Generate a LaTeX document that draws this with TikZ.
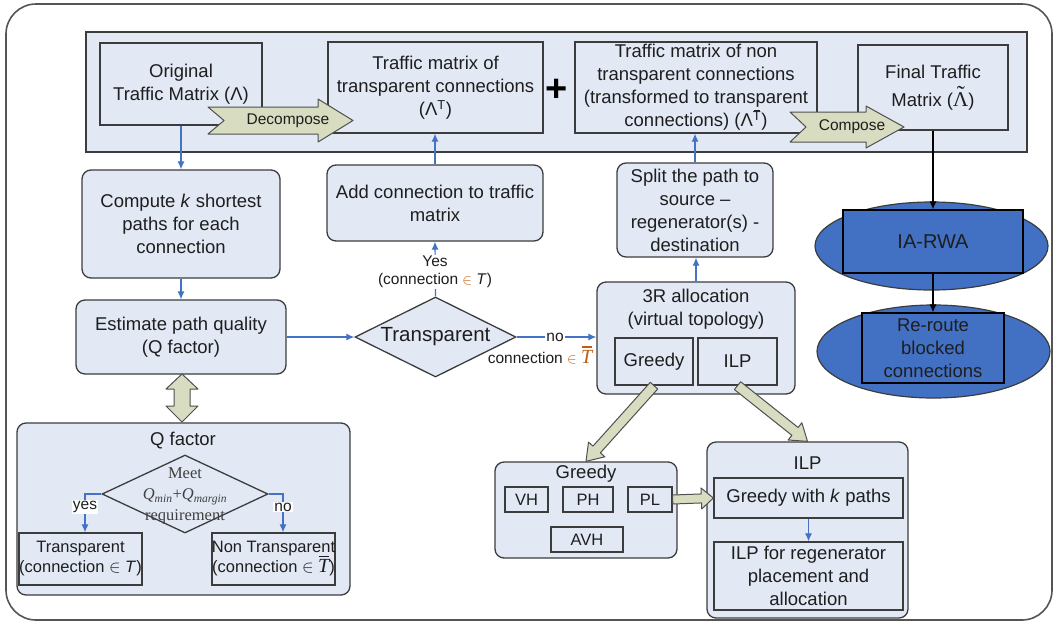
\documentclass[tikz,border=0pt]{standalone}
\usepackage[no-math]{fontspec}
\setmainfont{Liberation Sans}
\newfontfamily\seriff{Liberation Serif}
\usetikzlibrary{shapes.geometric,arrows.meta,calc}
\definecolor{boxfill}{RGB}{226,233,245}
\definecolor{bordergray}{RGB}{60,60,60}
\definecolor{framegray}{RGB}{85,85,85}
\definecolor{connblue}{RGB}{68,114,196}
\definecolor{fatfill}{RGB}{216,220,192}
\definecolor{fatborder}{RGB}{80,80,80}
\definecolor{ellblue}{RGB}{66,112,194}
\definecolor{textdark}{RGB}{30,30,30}
\definecolor{orng}{RGB}{190,95,20}
\newcommand\fs{\fontsize{18.5}{23}\selectfont}
\newcommand\ls{\fontsize{15.5}{18.5}\selectfont}
\newcommand\ms{\fontsize{16.5}{20}\selectfont}
\newcommand\tildeLam{\ooalign{{\seriff\fontsize{21}{21}\selectfont Λ}\cr\hidewidth\raisebox{0.18em}{\seriff\fontsize{24}{24}\selectfont\char"02DC}\hidewidth\cr}}
\newcommand\barT{\ooalign{T\cr\hidewidth\raisebox{0.78em}{\rule{0.5em}{0.07em}}\hidewidth\cr}}
\newcommand\fatarrow[5]{%
  \coordinate (fah) at ($(#2)!#5!(#1)$);
  \path[fat] ($(#1)!#3!90:(#2)$) -- ($(fah)!#3!90:(#2)$) -- ($(fah)!#4!90:(#2)$) -- (#2)
    -- ($(fah)!#4!-90:(#2)$) -- ($(fah)!#3!-90:(#2)$) -- ($(#1)!#3!-90:(#2)$) -- cycle;}
\begin{document}
\begin{tikzpicture}[x=1pt,y=-1pt,
  every node/.style={text=textdark},
  box/.style={draw=bordergray, fill=boxfill, line width=1.3pt, align=center, inner sep=0pt, font=\fs},
  rbox/.style={box, rounded corners=9pt},
  conn/.style={draw=connblue, line width=1.2pt, -{Latex[length=8pt,width=7pt]}},
  blk/.style={draw=black, line width=1.1pt, -{Latex[length=8pt,width=7pt]}},
  fat/.style={draw=fatborder, fill=fatfill, line width=1pt, line join=round},
  lbl/.style={fill=white, inner sep=1pt, font=\ls, align=center},
  ttl/.style={font=\fs, align=center, inner sep=0pt}]
\useasboundingbox (0,0) rectangle (1057,622);
% outer frame
\draw[framegray, line width=1.6pt, rounded corners=30pt, fill=white] (6,4) rectangle (1052,620);
% top band
\node[box, minimum width=941pt, minimum height=120pt] (band) at (556.5,92) {};
\node[box, minimum width=162pt, minimum height=82pt] (orig) at (181,84) {Original\\Traffic Matrix (Λ)};
\node[box, minimum width=215pt, minimum height=91pt] (tT) at (435.5,87.5) {Traffic matrix of\\transparent connections\\(Λ\textsuperscript{T})};
\node[font=\fontsize{38}{38}\selectfont\bfseries, inner sep=0pt, text=black] (plus) at (557,90) {+};
\node[box, minimum width=242pt, minimum height=91pt] (tN) at (696,87.5) {Traffic matrix of non\\transparent connections\\(transformed to transparent\\connections) (Λ\textsuperscript{\barT})};
\node[box, minimum width=150pt, minimum height=85pt] (fin) at (933,87.5) {Final Traffic\\[5pt]Matrix (\tildeLam)};
% left column
\node[rbox, minimum width=198pt, minimum height=108pt] (compute) at (181,224) {Compute \textit{k} shortest\\paths for each\\connection};
\node[rbox, minimum width=210pt, minimum height=74pt] (est) at (181,337) {Estimate path quality\\(Q factor)};
% middle
\node[rbox, minimum width=216pt, minimum height=76pt] (add) at (435,203) {Add connection to traffic\\matrix};
\node[draw=bordergray, fill=boxfill, line width=1.3pt, shape=diamond, aspect=2, minimum width=161pt, minimum height=80pt, inner sep=0pt, font=\fontsize{20.5}{24}\selectfont] (trans) at (435.5,337) {Transparent};
\node[rbox, minimum width=156pt, minimum height=94pt] (split) at (695,210) {Split the path to\\source --\\regenerator(s) -\\destination};
\node[rbox, minimum width=198pt, minimum height=112pt] (r3) at (696,338) {};
\node[ttl] (r3t) at (696,309) {3R allocation\\(virtual topology)};
\node[box, minimum width=78pt, minimum height=47pt] (gin) at (654,361.5) {Greedy};
\node[box, minimum width=79pt, minimum height=47pt] (iin) at (737.5,361.5) {ILP};
% Q factor box
\node[rbox, minimum width=333pt, minimum height=172pt] (qbox) at (183.5,509) {};
\node[ttl] (qtitle) at (183,441) {Q factor};
\node[draw=bordergray, fill=boxfill, line width=1.3pt, shape=diamond, minimum width=166pt, minimum height=78pt, inner sep=0pt] (qd) at (185,494) {};
\node[align=center, inner sep=0pt, font=\seriff\fontsize{16.5}{21}\selectfont, text=black!75] (qtext) at (185,496) {Meet\\\textit{Q}\textsubscript{\textit{min}}+\textit{Q}\textsubscript{\textit{margin}}\\requirement};
\node[box, font=\ms, minimum width=123pt, minimum height=52pt] (qT) at (80.5,559) {Transparent\\(connection $\in$ \textit{T})};
\node[box, font=\ms, minimum width=123pt, minimum height=52pt] (qN) at (273.5,559) {Non Transparent\\(connection $\in$ {\seriff\itshape\fontsize{20}{20}\selectfont\barT})};
% Greedy box
\node[rbox, minimum width=182pt, minimum height=96pt] (gbox) at (586,510) {};
\node[ttl] (gtitle) at (586,474) {Greedy};
\node[box, font=\ms, minimum width=43pt, minimum height=25pt] (vh) at (526.5,499.5) {VH};
\node[box, font=\ms, minimum width=50pt, minimum height=25pt] (ph) at (588,499.5) {PH};
\node[box, font=\ms, minimum width=44pt, minimum height=25pt] (pl) at (650,499.5) {PL};
\node[box, font=\ms, minimum width=72pt, minimum height=25pt] (avh) at (587,539.5) {AVH};
% ILP box
\node[rbox, minimum width=201pt, minimum height=176pt] (ilpbox) at (807.5,530) {};
\node[ttl] (ilptitle) at (807.5,463) {ILP};
\node[box, minimum width=189pt, minimum height=40pt] (gk) at (808.5,498) {Greedy with \textit{k} paths};
\node[box, minimum width=189pt, minimum height=68pt] (ilpreg) at (808.5,576) {ILP for regenerator\\placement and\\allocation};
% right ellipses
\node[draw=bordergray, fill=ellblue, line width=1.2pt, shape=ellipse, minimum width=233pt, minimum height=88pt, inner sep=0pt] (ell1) at (931.5,246) {};
\node[box, draw=black, fill=ellblue, font=\fontsize{20}{24}\selectfont, minimum width=180pt, minimum height=63pt] (ia) at (933,241.5) {IA-RWA};
\node[draw=bordergray, fill=ellblue, line width=1.2pt, shape=ellipse, minimum width=233pt, minimum height=93pt, inner sep=0pt] (ell2) at (933.5,351.5) {};
\node[box, draw=black, fill=ellblue, minimum width=142pt, minimum height=70pt] (rr) at (933,348) {Re-route\\blocked\\connections};
% connectors
\draw[conn] (orig.south) -- (compute.north);
\draw[conn] (compute.south) -- (est.north);
\draw[conn] (est.east) -- (trans.west);
\draw[conn] (trans.north) -- (add.south);
\draw[conn] (add.north) -- (add.north |- tT.south);
\draw[conn] (trans.east) -- (trans.east -| r3.west);
\draw[conn] (r3.north) -- (r3.north |- split.south);
\draw[conn] (split.north) -- (split.north |- tN.south);
\draw[conn] (gk.south) -- (ilpreg.north);
\draw[conn] (qd.west) -| ($(qT.north)+(4.5,0)$);
\draw[conn] (qd.east) -| ($(qN.north)+(9.5,0)$);
\draw[blk] (fin.south) -- (ia.north);
\draw[blk] (ia.south) -- (rr.north);
% labels
\node[lbl] (yeslbl) at (435,272) {Yes\\(connection {\color{orng}$\in$} \textit{T})};
\node[lbl] (nolbl) at (555,337) {no};
\node[lbl, fill=none] (notlbl) at (540,357) {connection {\color{orng}$\in$} {\color{orng}\seriff\itshape\fontsize{20}{20}\selectfont\barT}};
\node[lbl] (qyes) at (85,507) {yes};
\node[lbl] (qno) at (283,507) {no};
% fat arrows
\path[fat] (208,107) -- (318,107) -- (318,99) -- (353,120.5) -- (318,142) -- (318,134) -- (208,134) -- (224,120.5) -- cycle;
\node[font=\ls, inner sep=0pt] (decomp) at (288,121) {Decompose};
\path[fat] (790,112) -- (866,112) -- (866,106) -- (904,127) -- (866,148) -- (866,142) -- (790,142) -- (806,127) -- cycle;
\node[font=\ls, inner sep=0pt] (comp) at (852,127) {Compose};
\path[fat] (182,374) -- (198,389) -- (190,389) -- (190,406) -- (198,406) -- (182,422) -- (166,406) -- (174,406) -- (174,389) -- (166,389) -- cycle;
\fatarrow{gin.south}{gbox.north}{5pt}{11pt}{16pt}
\fatarrow{iin.south}{ilpbox.north}{5pt}{11pt}{16pt}
\fatarrow{pl.east}{gk.west}{4.5pt}{10.5pt}{12pt}
\end{tikzpicture}
\end{document}
